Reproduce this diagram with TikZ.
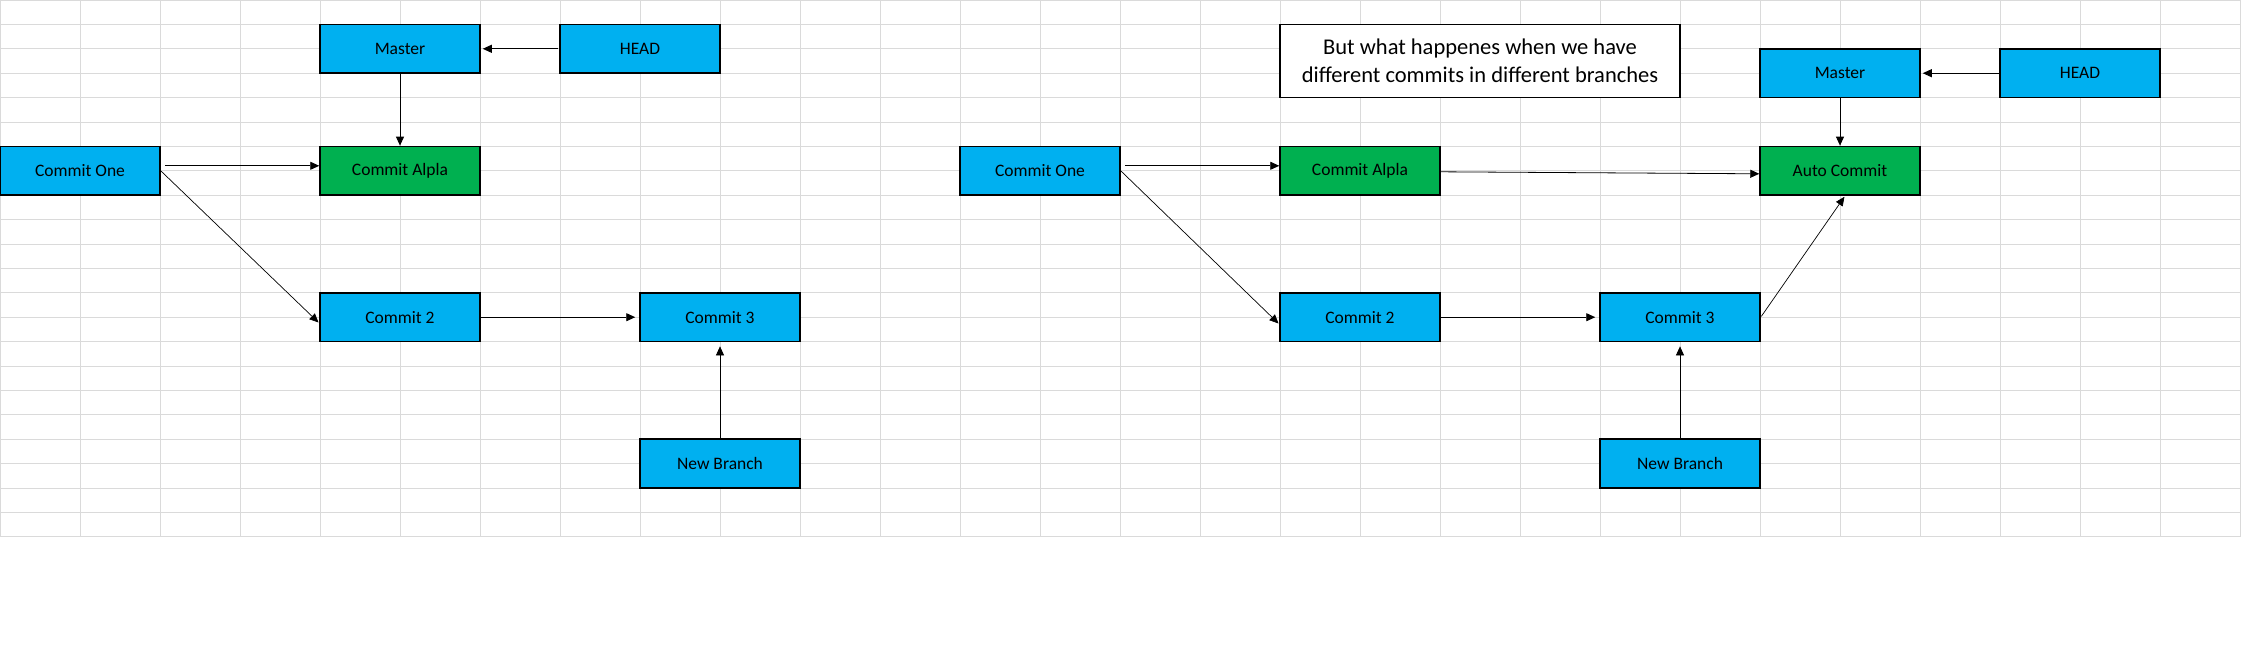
\documentclass[tikz,border=0pt]{standalone}
\usepackage{fontspec}
\setmainfont{Carlito}
\usetikzlibrary{arrows.meta}
\definecolor{cellblue}{HTML}{00B0F0}
\definecolor{cellgreen}{HTML}{00B050}
\definecolor{cellgrid}{HTML}{DADADA}
\tikzset{
	commitbox/.style={draw=black, line width=1.5pt, fill=cellblue, minimum width=160pt, minimum height=48.8pt, inner sep=0pt, font=\fontsize{17.5}{21}\selectfont},
	greenbox/.style={commitbox, fill=cellgreen},
	notebox/.style={draw=black, line width=1.5pt, fill=white, minimum width=400pt, minimum height=73.2pt, align=center, inner sep=0pt, font=\fontsize{22.5}{28.5}\selectfont},
	link/.style={line width=0.9pt, -{Triangle[length=9pt, width=8pt]}}
}
\begin{document}
\begin{tikzpicture}[x=80pt, y=-24.4pt]
		\useasboundingbox[fill=white] (0, 0) rectangle (28.0125, 26.5574);
		% sheet cells
		\foreach \i in {0, 1, ..., 28}{
			\draw[cellgrid, line width=1pt] (\i, 0) -- (\i, 22);
		}
		\foreach \j in {0, 1, ..., 22}{
			\draw[cellgrid, line width=1pt] (0, \j) -- (28, \j);
		}
		% first sheet
		\node[commitbox] (master) at (5, 2) {Master};
		\node[commitbox] (head) at (8, 2) {HEAD};
		\node[commitbox] (one) at (1, 7) {Commit One};
		\node[greenbox] (alpha) at (5, 7) {Commit Alpla};
		\node[commitbox] (two) at (5, 13) {Commit 2};
		\node[commitbox] (three) at (9, 13) {Commit 3};
		\node[commitbox] (branch) at (9, 19) {New Branch};
		\draw[link, shorten <=1pt, shorten >=2pt] (head) -- (master);
		\draw[link] (master) -- (alpha);
		\draw[link, shorten <=4pt] ([yshift=5pt]one.east) -- ([yshift=5pt]alpha.west);
		\draw[link, line width=0.7pt, shorten >=1pt] (one.east) -- ([yshift=-6pt]two.west);
		\draw[link, shorten >=4pt] (two) -- (three);
		\draw[link, line width=0.7pt, shorten >=4pt] (branch) -- (three);
		% second sheet
		\node[notebox] (note) at (18.5, 2.5) {But what happenes when we have\\different commits in different branches};
		\node[commitbox] (master2) at (23, 3) {Master};
		\node[commitbox] (head2) at (26, 3) {HEAD};
		\node[commitbox] (one2) at (13, 7) {Commit One};
		\node[greenbox] (alpha2) at (17, 7) {Commit Alpla};
		\node[greenbox] (auto) at (23, 7) {Auto Commit};
		\node[commitbox] (two2) at (17, 13) {Commit 2};
		\node[commitbox] (three2) at (21, 13) {Commit 3};
		\node[commitbox] (branch2) at (21, 19) {New Branch};
		\draw[link, shorten >=2pt] (head2) -- (master2);
		\draw[link, line width=0.7pt] (master2) -- (auto);
		\draw[link, shorten <=4pt] ([yshift=5pt]one2.east) -- ([yshift=5pt]alpha2.west);
		\draw[link, line width=0.7pt, shorten >=1pt] (one2.east) -- ([yshift=-7pt]two2.west);
		\draw[link, line width=0.8pt] ([yshift=-1pt]alpha2.east) -- ([yshift=-3pt]auto.west);
		\draw[link, shorten >=4pt] (two2) -- (three2);
		\draw[link, line width=0.7pt, shorten >=4pt] (branch2) -- (three2);
		\draw[link, line width=0.7pt, shorten <=1pt, shorten >=1pt] (three2.east) -- ([xshift=5pt]auto.south);
	\end{tikzpicture}
\end{document}
